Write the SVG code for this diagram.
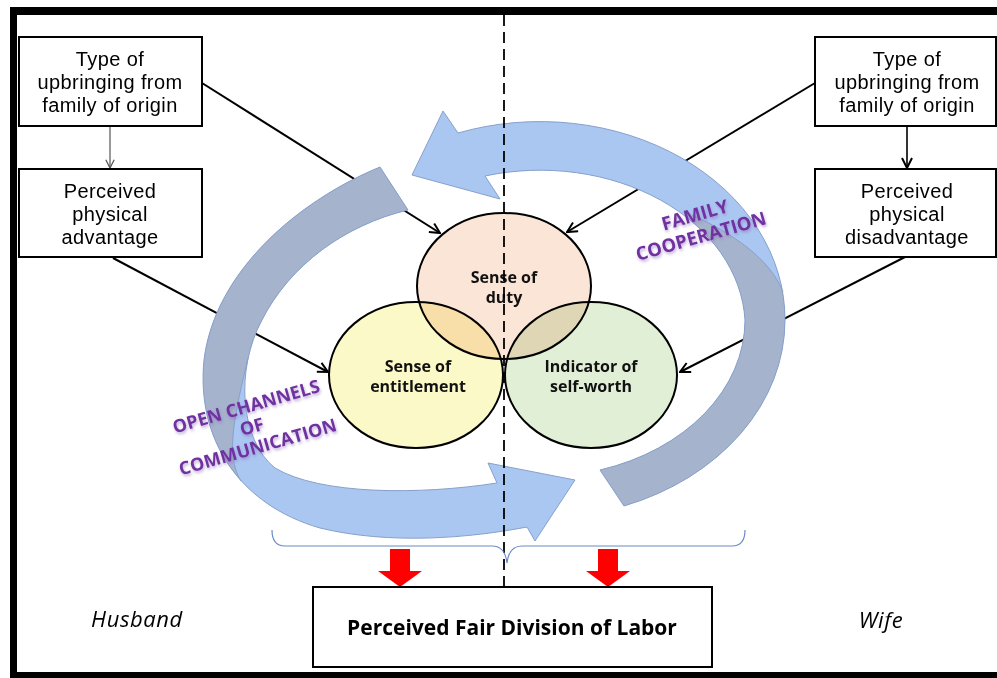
<svg xmlns="http://www.w3.org/2000/svg" width="997" height="678" viewBox="0 0 997 678">
<style>
.box{fill:#fff;stroke:#000;stroke-width:2}
.bt{font-family:"Liberation Sans",Arial,sans-serif;font-size:20px;letter-spacing:0.4px;fill:#000;text-anchor:middle}
.ct{font-family:"Open Sans","Liberation Sans",sans-serif;font-size:16px;font-weight:bold;fill:#111;text-anchor:middle}
.conn{stroke:#000;stroke-width:2;fill:none}
.circ{stroke:#000;stroke-width:2;mix-blend-mode:multiply}
.pur{font-family:"Open Sans","Liberation Sans",sans-serif;font-weight:bold;fill:#7030A0;text-anchor:middle}
.lb{fill:#AAC7F2}
.gr{fill:#A5B3CC}
.ol{fill:none;stroke:#86A0CA;stroke-width:1}
.it{font-family:"Open Sans","Liberation Sans",sans-serif;font-size:22px;letter-spacing:0.6px;font-style:italic;fill:#000;text-anchor:middle}
</style>
<defs>
<marker id="ah" viewBox="0 0 12 12" refX="11" refY="6" markerWidth="12" markerHeight="12" markerUnits="userSpaceOnUse" orient="auto">
<path d="M1,1 L11,6 L1,11" fill="none" stroke="#000" stroke-width="2"/>
</marker>
<marker id="ahg" viewBox="0 0 12 12" refX="11" refY="6" markerWidth="10" markerHeight="10" markerUnits="userSpaceOnUse" orient="auto">
<path d="M1,1 L11,6 L1,11" fill="none" stroke="#555" stroke-width="1.5"/>
</marker>
<filter id="sh" x="-20%" y="-50%" width="140%" height="200%">
<feDropShadow dx="1" dy="2" stdDeviation="1.5" flood-color="#8a6bb8" flood-opacity="0.55"/>
</filter>
<clipPath id="clipA"><path d="M692,215 C730,232 770,258 783,292 L870,300 L870,620 L560,620 L560,440 L650,300 Z"/></clipPath>
<clipPath id="clipB"><path d="M248,358 C236,410 224,455 241,481 L150,530 L150,100 L460,100 L460,240 Z"/></clipPath>
<path id="pA" d="M458,133 A245 198 0 0 1 785,320 A245 198 0 0 1 624,506 L600,470 A205 157 0 0 0 745,320 A205 157 0 0 0 485,176 L500,199 L412,175 L443,111 Z"/>
<path id="pB" d="M380,167 C300,200 215,270 204,360 C196,440 240,505 320,528 C390,545 470,538 527,527 L535,541 L575,480 L488,463 L497,483 C420,495 320,495 275,468 C240,440 235,370 262,320 C290,265 345,225 408,210 Z"/>
</defs>
<rect x="0" y="0" width="997" height="678" fill="#fff"/>
<g id="frame">
<rect x="10" y="7" width="987" height="8" fill="#000"/>
<rect x="10" y="7" width="7" height="671" fill="#000"/>
<rect x="10" y="672" width="987" height="6" fill="#000"/>
</g>
<g id="connectors">
<line class="conn" x1="202" y1="83" x2="440" y2="233" marker-end="url(#ah)"/>
<line class="conn" x1="113" y1="258" x2="328" y2="372" marker-end="url(#ah)"/>
<line class="conn" x1="815" y1="83" x2="567" y2="232" marker-end="url(#ah)"/>
<line class="conn" x1="905" y1="257" x2="680" y2="372" marker-end="url(#ah)"/>
<line x1="110" y1="126" x2="110" y2="168" stroke="#555" stroke-width="1.2" marker-end="url(#ahg)"/>
<line x1="907" y1="126" x2="907" y2="168" stroke="#000" stroke-width="1.6" marker-end="url(#ah)"/>
</g>
<g id="arrow-family-cooperation">
<use href="#pA" class="lb"/>
<use href="#pA" class="gr" clip-path="url(#clipA)"/>
<use href="#pA" class="ol"/>
<path d="M692,215 C730,232 770,258 783,292" class="ol"/>
</g>
<g id="arrow-open-channels">
<use href="#pB" class="lb"/>
<use href="#pB" class="gr" clip-path="url(#clipB)"/>
<use href="#pB" class="ol"/>
<path d="M248,358 C236,410 224,455 241,481" class="ol"/>
</g>
<g id="circles">
<g id="entitlement"><ellipse class="circ" cx="416" cy="375" rx="87" ry="73" fill="#FCF9C9"/></g>
<g id="selfworth"><ellipse class="circ" cx="591" cy="375" rx="86" ry="73" fill="#E2EFD7"/></g>
<g id="duty"><ellipse class="circ" cx="504" cy="286" rx="87" ry="73" fill="#FBE5D6"/></g>
</g>
<text class="ct" x="504" y="283">Sense of</text>
<text class="ct" x="504" y="303">duty</text>
<text class="ct" x="418" y="372">Sense of</text>
<text class="ct" x="418" y="392">entitlement</text>
<text class="ct" x="591" y="372">Indicator of</text>
<text class="ct" x="591" y="392">self-worth</text>
<g id="box-upbringing-h">
<rect class="box" x="19" y="37" width="183" height="89"/>
<text class="bt" x="110" y="66">Type of</text>
<text class="bt" x="110" y="89">upbringing from</text>
<text class="bt" x="110" y="112">family of origin</text>
</g>
<g id="box-advantage">
<rect class="box" x="19" y="169" width="183" height="88"/>
<text class="bt" x="110" y="198">Perceived</text>
<text class="bt" x="110" y="221">physical</text>
<text class="bt" x="110" y="244">advantage</text>
</g>
<g id="box-upbringing-w">
<rect class="box" x="815" y="37" width="181" height="89"/>
<text class="bt" x="907" y="66">Type of</text>
<text class="bt" x="907" y="89">upbringing from</text>
<text class="bt" x="907" y="112">family of origin</text>
</g>
<g id="box-disadvantage">
<rect class="box" x="815" y="169" width="181" height="88"/>
<text class="bt" x="907" y="198">Perceived</text>
<text class="bt" x="907" y="221">physical</text>
<text class="bt" x="907" y="244">disadvantage</text>
</g>
<g id="label-family" filter="url(#sh)">
<text class="pur" font-size="18.5" transform="rotate(-16 698 226)" x="698" y="221">FAMILY</text>
<text class="pur" font-size="18.5" transform="rotate(-16 698 226)" x="698" y="243">COOPERATION</text>
</g>
<g id="label-open" filter="url(#sh)">
<text class="pur" font-size="18" transform="rotate(-16 252 427)" x="252" y="412">OPEN CHANNELS</text>
<text class="pur" font-size="18" transform="rotate(-16 252 427)" x="252" y="433">OF</text>
<text class="pur" font-size="18" transform="rotate(-16 252 427)" x="252" y="454">COMMUNICATION</text>
</g>
<line id="divider" x1="504" y1="15" x2="504" y2="587" stroke="#000" stroke-width="1.8" stroke-dasharray="11 6"/>
<path id="brace" d="M272,530 Q272,546 285,546 L492,546 Q505,546 507,563 Q509,546 522,546 L732,546 Q745,546 745,530" fill="none" stroke="#6A8BC3" stroke-width="1.2"/>
<g id="red-arrows" fill="#FF0000">
<path d="M390,549 H410 V571 H422 L400,587 L378,571 H390 Z"/>
<path d="M598,549 H618 V571 H630 L608,587 L586,571 H598 Z"/>
</g>
<g id="box-fair">
<rect class="box" x="313" y="587" width="399" height="80"/>
<text x="512" y="635" font-family="'Open Sans','Liberation Sans',sans-serif" font-size="21" font-weight="bold" text-anchor="middle">Perceived Fair Division of Labor</text>
</g>
<text class="it" x="137" y="627">Husband</text>
<text class="it" x="881" y="628">Wife</text>
</svg>
